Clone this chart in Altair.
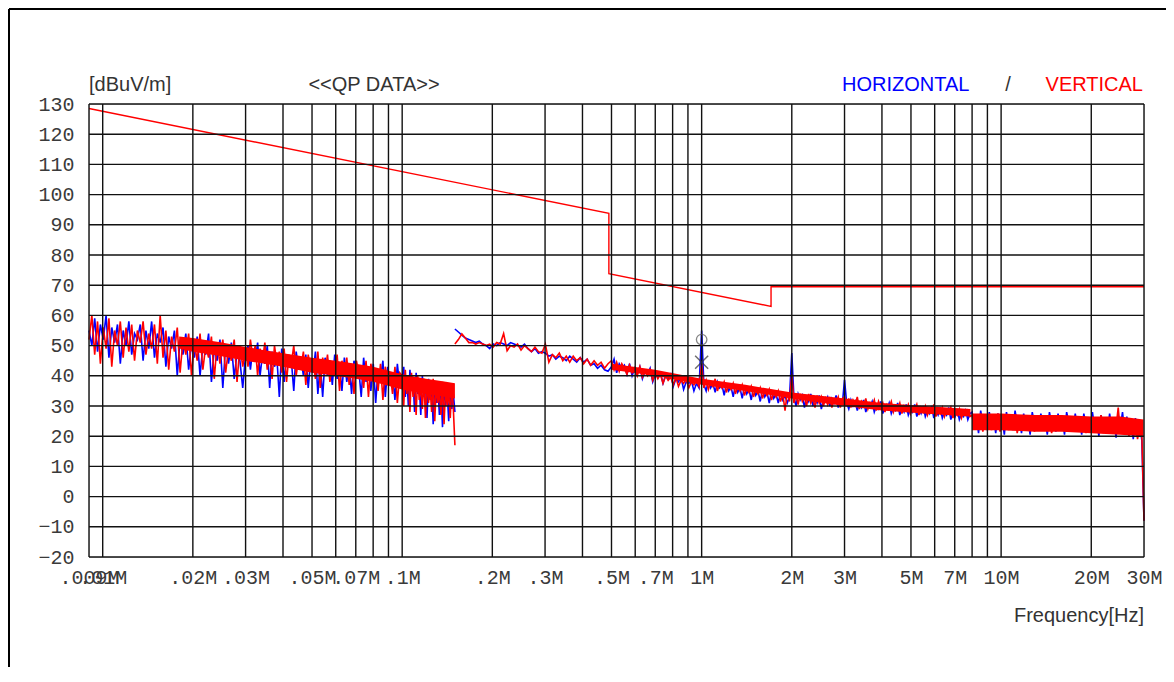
import altair as alt
import numpy as np
import pandas as pd

W, H = 1055, 453
BLUE, RED = "#0000FF", "#FF0000"

# Band 1: 9 kHz - 150 kHz ; Band 2: 150 kHz - 30 MHz  (frequencies in MHz)
H_b1a = [55, 50, 59, 48, 57, 52, 60, 46, 56,
         51, 57, 44, 55, 50, 58, 47, 54, 52, 57, 45, 55, 49, 58, 46, 54,
         51,
         56, 43, 53, 49, 55, 40, 52, 47, 54, 42, 51,
         46, 53, 40, 50, 47, 54, 38, 49, 45, 52, 36, 50, 44, 51, 39, 48, 45, 36]
V_b1a = [52, 60, 47, 58, 44, 56, 49, 59, 43,
         55, 50, 58, 46, 56, 48, 57, 45, 55, 51, 58, 47, 54, 49, 57, 44,
         60,
         46, 55, 42, 53, 48, 56, 41, 52, 47, 54, 40,
         51, 45, 54, 42, 50, 46, 53, 39, 51, 44, 52, 41, 49, 45, 52, 38, 50, 43]

H_b1b = [47, 50, 42, 49, 45, 51, 40, 47, 44, 50, 36, 48, 43, 46, 33, 49, 38, 47, 44, 45,
         35, 48, 42, 46, 40, 47, 36, 45, 41, 48, 34, 44, 33, 46, 40, 45, 37, 47, 39, 43,
         35, 46, 38, 44, 34, 45, 40, 42, 33, 46, 38, 43, 35, 44, 31, 42, 39, 45, 33, 43,
         37, 41, 32, 44, 36]
V_b1b = [49, 43, 52, 46, 50, 40, 49, 45, 51, 42, 48, 39, 50, 44, 48, 41, 49, 38, 47, 44,
         50, 40, 46, 43, 48, 37, 47, 42, 45, 39, 48, 36, 46, 41, 47, 38, 44, 42, 47, 35,
         45, 40, 46, 37, 44, 34, 45, 41, 43, 36, 45, 33, 44, 39, 42, 35, 44, 32, 43, 38,
         41, 34, 43, 31, 41]

H_b1c = [38, 43, 33, 40, 30, 42, 35, 39, 28, 41, 34, 37, 27, 40, 33, 38, 26, 39, 32, 36,
         24, 38, 31, 37, 27, 36, 23, 37, 30, 35, 25, 36, 29, 34, 28]
V_b1c = [40, 30, 42, 34, 39, 28, 41, 33, 38, 27, 40, 32, 37, 29, 39, 26, 38, 31, 36, 28,
         39, 25, 37, 31, 35, 27, 38, 24, 36, 30, 35, 26, 37, 29, 17]

H_b2a = [55.5, 54.5, 53.5, 52.5, 52, 51.5, 51, 51.5, 50.5, 50, 49,
         50.5, 50, 51, 50.5, 50, 51, 50.5, 50, 49.5, 50.5, 49, 48, 49, 47.5, 48,
         47.5, 46.5, 47, 45.5, 46.5, 46, 45, 46.5, 45.5, 44.5, 46,
         44.5, 45.5, 43.5, 44, 42.5, 43.5, 42, 41.5]
V_b2a = [50.5, 52, 53.9, 52.5, 51, 51, 50.5, 51, 50.5, 50, 50.5,
         49.5, 51, 50.5, 54, 48.3, 50, 49.5, 50.5, 48.5, 50, 49, 48, 49.5, 48, 47.5,
         50.5, 44.5, 47, 46, 47.5, 45, 46.5, 44.5, 46.5, 45, 46,
         44, 45.5, 43.5, 45, 43.5, 44.5, 42.5, 44]

H_b2b = [43, 45.5, 41, 44, 42.5, 43.5, 40.5, 44, 40, 42.5, 41, 43, 39, 41.5, 40.5, 42.5,
         38, 40.5, 39.5, 41, 37.5, 40, 39, 40.5, 36.5, 39, 38, 39.5, 35.5, 38, 37.5, 38.5,
         35, 37.5, 36]
V_b2b = [45, 42, 44.5, 41.5, 44, 42.5, 40.5, 43.5, 41, 42.5, 40, 43, 39.5, 41.5, 40, 42,
         38.5, 41, 39, 40.5, 37.5, 40, 38.5, 39.5, 37, 39.5, 36.5, 38.5, 37.5, 39, 36, 38,
         37, 38.5, 36.5]

H_b2c = [55, 37, 35, 38.5, 36, 37.5, 34.5, 38, 36, 37, 33.5, 37.5, 35, 36.5, 33, 37,
         34.5, 36, 32.5, 36.5, 34, 35.5, 32, 36, 33.5, 35, 31.5, 35.5, 33, 34.5, 31, 35,
         32.5, 34, 31, 34.5, 32, 33.5, 31, 33]
V_b2c = [44, 36, 38.5, 35.5, 38, 36.5, 39, 35, 37.5, 36, 38, 34.5, 37, 35.5, 37.5, 34,
         36.5, 35, 37, 33.5, 36, 34.5, 36.5, 33, 35.5, 34, 36, 32.5, 35, 33.5, 35.5, 32,
         34.5, 33, 35, 31.5, 34, 28.5, 34.5, 31.5]

H_b2d = [47.5, 33, 30, 34, 32, 33.5, 29.5, 33, 31.5, 34, 30, 32.5, 31, 33.5, 29, 32,
         31.5, 33, 30, 32.5, 31, 33.5, 29.5, 32, 31]
V_b2d = [40.5, 31, 33.5, 30.5, 34, 31.5, 33, 30, 34, 31, 32.5, 29.5, 33.5, 31, 33, 30,
         32.5, 30.5, 33, 29.5, 32, 31, 33, 29.5, 32.5]

H_b2e = [38.7, 31, 29, 32, 30, 31.5, 28.5, 31, 29.5, 32, 28, 30.5, 29.5, 31.5, 28, 30,
         29, 31.5, 27.5, 30, 29, 31, 27.5, 29.5, 28.5, 31, 27, 29.5, 28, 30.5, 27, 29,
         28, 30.5, 26.5, 29, 27.5, 30, 26.5, 28.5, 27.5, 30, 26, 28.5, 27, 29.5, 26, 28,
         27, 29.5, 25.5, 28, 26.5, 29, 25.5, 27.5, 26.5, 28.5, 25.5, 27.5]
V_b2e = [33, 30, 32.5, 29.5, 32, 30.5, 33, 29, 31.5, 30, 32.5, 29, 31, 30, 32, 28.5,
         31.5, 29.5, 31, 28, 30.5, 29.5, 31.5, 28, 30, 29, 31, 27.5, 30, 28.5, 30.5, 27.5,
         29.5, 28.5, 30.5, 27, 29.5, 28, 30, 27, 29, 28, 30.5, 26.5, 29, 27.5, 29.5, 26.5,
         28.5, 27.5, 29.5, 26, 28.5, 27, 29, 26, 28, 27, 28.5, 26.5]

H_b2f = [28, 23, 26.5, 21, 28.5, 24, 26, 22, 28, 23.5, 26.5, 21, 27.5, 24.5, 26, 20.5,
         28, 23, 26.5, 22, 28.5, 24, 25.5, 21, 27.5, 23.5, 26, 20.5, 28, 24, 26.5, 22,
         27.5, 23, 25.5, 20.5, 28, 24, 26, 21.5, 27.5, 23, 26.5, 20.5, 28, 24.5, 25.5, 22,
         27.5, 23, 26, 20.5, 27.5, 23.5, 25.5, 21.5, 28, 23, 26, 20, 27, 24, 25.5, 21,
         27.5, 22.5, 26, 19.5, 27, 23, 28, 21, 26.5, 22, 25.5, 19, 26, 21, 24.5, 18.5, -8]
V_b2f = [27, 22.5, 26, 23, 27.5, 21.5, 25.5, 23.5, 27, 22, 26, 24, 27.5, 21.5, 25, 23,
         26.5, 22, 25.5, 24, 27, 21, 25, 23.5, 26.5, 22, 25.5, 23, 27, 21.5, 25, 24,
         26.5, 22, 25.5, 23, 27, 21, 24.5, 23.5, 26, 22, 25.5, 23, 26.5, 21.5, 24.5, 23,
         26, 21.5, 25, 22.5, 26.5, 21, 24.5, 23, 26, 21.5, 25, 22, 27, 21, 24.5, 22.5,
         26, 21, 24, 23, 29.5, 21, 25, 22, 26, 20, 24, 21.5, 25, 19, 23.5, 20.5, -8]

# (band, f_start, f_stop, horizontal, vertical); last segment of a band ends on f_stop
segments = [
    (1, 0.009, 0.03, H_b1a, V_b1a),
    (1, 0.03, 0.1, H_b1b, V_b1b),
    (1, 0.1, 0.15, H_b1c, V_b1c),
    (2, 0.15, 0.5, H_b2a, V_b2a),
    (2, 0.5, 1.0, H_b2b, V_b2b),
    (2, 1.0, 2.0, H_b2c, V_b2c),
    (2, 2.0, 3.0, H_b2d, V_b2d),
    (2, 3.0, 8.0, H_b2e, V_b2e),
    (2, 8.0, 30.0, H_b2f, V_b2f),
]
band_last = {1: 0.15, 2: 30.0}

rows = []
for band, f0, f1, hv, vv in segments:
    for pol, vals in (("H", hv), ("V", vv)):
        fs = np.geomspace(f0, f1, len(vals), endpoint=(f1 == band_last[band]))
        for f, v in zip(fs, vals):
            rows.append({"f": float(f), "v": v, "pol": pol, "band": band})
trace = pd.DataFrame(rows)
trace["order"] = range(len(trace))

# solid core of the dense red (vertical) trace: lower / upper edge
core1_f = [0.018, 0.02, 0.025, 0.03, 0.04, 0.05, 0.06, 0.07, 0.08, 0.1, 0.12, 0.14, 0.15]
core1_lo = [49, 48, 46.5, 45, 43, 41, 40, 39, 38, 35.5, 34, 33, 32.5]
core1_hi = [53, 52.5, 51, 49.5, 47.5, 46, 45, 44, 43, 40.5, 39, 38, 37.5]
core2_f = [0.5, 0.7, 1.0, 1.4, 2.0, 3.0, 4.0, 5.5, 7.9]
core2_lo = [42, 40, 37, 35, 32.5, 30, 28.5, 27.5, 26.5]
core2_hi = [44, 42, 39, 37, 34.5, 32.5, 31, 30, 29]
core3_f = [8.0, 10, 13, 16, 20, 25, 29.9]
core3_lo = [22, 22, 21.5, 21.5, 21, 20.5, 20]
core3_hi = [27.5, 27.5, 27, 27, 26.5, 26.5, 25.5]

core = pd.concat([
    pd.DataFrame({"f": core1_f, "lo": core1_lo, "hi": core1_hi, "part": "a"}),
    pd.DataFrame({"f": core2_f, "lo": core2_lo, "hi": core2_hi, "part": "b"}),
    pd.DataFrame({"f": core3_f, "lo": core3_lo, "hi": core3_hi, "part": "c"}),
], ignore_index=True)

# limit line
lim_f = [0.009, 0.49, 0.49, 1.705, 1.705, 30.0]
lim_v = [128.5, 93.8, 73.8, 63.0, 69.5, 69.5]
limit = pd.DataFrame({"f": lim_f, "v": lim_v, "order": range(len(lim_f))})

# peak markers at 1 MHz
mk_circle = pd.DataFrame({"f": [1.0], "v": [52.0]})
mk_cross = pd.DataFrame({"f": [1.0], "v": [44.5]})

# grid and ticks
grid_x = [0.009, 0.01, 0.02, 0.03, 0.04, 0.05, 0.06, 0.07, 0.08, 0.09,
          0.1, 0.2, 0.3, 0.4, 0.5, 0.6, 0.7, 0.8, 0.9,
          1, 2, 3, 4, 5, 6, 7, 8, 9, 10, 20, 30]
grid_y = [-20, -10, 0, 10, 20, 30, 40, 50, 60, 70, 80, 90, 100, 110, 120, 130]
xlab_vals = [0.009, 0.01, 0.02, 0.03, 0.05, 0.07, 0.1, 0.2, 0.3, 0.5, 0.7,
             1, 2, 3, 5, 7, 10, 20, 30]
xlab_text = [".009M", ".01M", ".02M", ".03M", ".05M", ".07M", ".1M", ".2M", ".3M",
             ".5M", ".7M", "1M", "2M", "3M", "5M", "7M", "10M", "20M", "30M"]

label_expr = ""
for v, t in zip(xlab_vals, xlab_text):
    label_expr += f"abs(datum.value - {v}) < {v * 1e-3} ? '{t}' : "
label_expr += "''"

xs = alt.Scale(type="log", domain=[0.009, 30], nice=False)
ys = alt.Scale(domain=[-20, 130], nice=False, zero=False)

MONO = "Liberation Mono"
SANS = "Liberation Sans"

x_axis = alt.Axis(values=xlab_vals, labelExpr=label_expr, grid=False, ticks=False,
                  domain=False, labelFont=MONO, labelFontSize=20, labelColor="#3a3a3a",
                  labelPadding=10, labelFlush=False, labelOverlap=False, title=None,
                  labelAngle=0, labelAlign="center")
y_axis = alt.Axis(values=grid_y, grid=False, ticks=False, domain=False,
                  labelFont=MONO, labelFontSize=20, labelColor="#3a3a3a",
                  labelPadding=15, title=None, labelOverlap=False, labelFlush=False)

X = alt.X("f:Q", scale=xs, axis=x_axis)
Y = alt.Y("v:Q", scale=ys, axis=y_axis)

blue = alt.Chart(trace[trace.pol == "H"]).mark_line(color=BLUE, strokeWidth=1.6).encode(
    x=X, y=Y, detail="band:N", order="order:Q")
red_core = alt.Chart(core).mark_area(color=RED, opacity=1).encode(
    x=X, y=alt.Y("lo:Q", scale=ys, axis=y_axis), y2="hi:Q", detail="part:N")
red = alt.Chart(trace[trace.pol == "V"]).mark_line(color=RED, strokeWidth=1.6).encode(
    x=X, y=Y, detail="band:N", order="order:Q")
lim = alt.Chart(limit).mark_line(color=RED, strokeWidth=1.4).encode(
    x=X, y=Y, order="order:Q")

gx = alt.Chart(pd.DataFrame({"f": grid_x})).mark_rule(color="#111111", strokeWidth=1.4).encode(x=X)
gy = alt.Chart(pd.DataFrame({"v": grid_y})).mark_rule(color="#111111", strokeWidth=1.4).encode(y=Y)

circ = alt.Chart(mk_circle).mark_point(shape="circle", filled=False, size=110,
                                       color="#555555", strokeWidth=1.3).encode(x=X, y=Y)
cross = alt.Chart(mk_cross).mark_point(shape="M-1,-1L1,1M-1,1L1,-1", filled=False, size=170,
                                       color="#333333", strokeWidth=1.5).encode(x=X, y=Y)

# header / footer texts
hdr_unit, hdr_mode = ["[dBuV/m]"], ["<<QP DATA>>"]
hdr_h, hdr_sep, hdr_v = ["HORIZONTAL"], ["/"], ["VERTICAL"]
xtitle = ["Frequency[Hz]"]

def txt(texts, x, y, color, align):
    return alt.Chart(pd.DataFrame({"t": texts})).mark_text(
        font=SANS, fontSize=20, color=color, align=align, baseline="alphabetic"
    ).encode(text="t:N", x=alt.value(x), y=alt.value(y))

t1 = txt(hdr_unit, 0, -13, "#333333", "left")
t2 = txt(hdr_mode, 285, -13, "#333333", "center")
t3 = txt(hdr_h, 753, -13, BLUE, "left")
t4 = txt(hdr_sep, 919, -13, "#333333", "center")
t5 = txt(hdr_v, 1054, -13, RED, "right")
t6 = txt(xtitle, 1055, 65 + H, "#333333", "right")

frame_l = alt.Chart(pd.DataFrame({"a": [0]})).mark_rule(color="black", strokeWidth=2).encode(
    x=alt.value(-80), y=alt.value(-95), y2=alt.value(H + 130))
frame_t = alt.Chart(pd.DataFrame({"a": [0]})).mark_rule(color="black", strokeWidth=2).encode(
    x=alt.value(-80), x2=alt.value(W + 40), y=alt.value(-95))

chart = alt.layer(
    blue, red_core, red, lim, gx, gy, circ, cross, t1, t2, t3, t4, t5, t6, frame_l, frame_t
).properties(
    width=W, height=H,
    padding={"left": 81, "top": 96, "right": 22, "bottom": 110},
    autosize=alt.AutoSizeParams(type="none"),
).configure_view(stroke="black", strokeWidth=2).configure(background="white")

chart.save("out.html", embed_options={"renderer": "svg", "actions": False})
